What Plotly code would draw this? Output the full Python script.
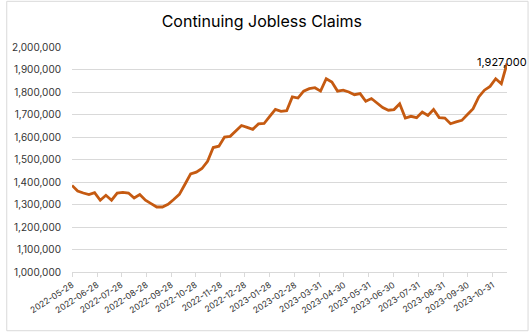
import pandas as pd
import plotly.graph_objects as go

# Weekly continuing jobless claims, weeks ending Saturday from 2022-05-28
week_start = "2022-05-28"
claims = [
    1385000, 1360000, 1351000, 1344000, 1353000, 1319000, 1341000, 1319000,
    1351000, 1354000, 1351000, 1329000, 1344000, 1319000, 1304000, 1289000,
    1289000, 1301000, 1322000, 1345000, 1390000, 1436000, 1444000, 1460000,
    1492000, 1553000, 1559000, 1600000, 1603000, 1627000, 1651000, 1643000,
    1634000, 1658000, 1660000, 1692000, 1723000, 1714000, 1717000, 1778000,
    1773000, 1804000, 1815000, 1819000, 1804000, 1859000, 1844000, 1804000,
    1808000, 1800000, 1788000, 1793000, 1759000, 1771000, 1753000, 1731000,
    1719000, 1722000, 1748000, 1684000, 1692000, 1686000, 1711000, 1696000,
    1722000, 1686000, 1684000, 1659000, 1667000, 1674000, 1700000, 1726000,
    1778000, 1808000, 1825000, 1859000, 1837000, 1927000,
]
weeks = pd.date_range(week_start, periods=len(claims), freq="7D")

# Monthly tick dates on the x axis
tick_dates = [
    "2022-05-28", "2022-06-28", "2022-07-28", "2022-08-28", "2022-09-28",
    "2022-10-28", "2022-11-28", "2022-12-28", "2023-01-28", "2023-02-28",
    "2023-03-31", "2023-04-30", "2023-05-31", "2023-06-30", "2023-07-31",
    "2023-08-31", "2023-09-30", "2023-10-31",
]
y_ticks = list(range(1000000, 2000001, 100000))

LINE = "#C55A11"
TEXT = "#333333"
FONT = "Inter"

fig = go.Figure()
fig.add_trace(go.Scatter(
    x=weeks, y=claims, mode="lines",
    line=dict(color=LINE, width=2.8),
    hoverinfo="skip", showlegend=False,
))

# Label for the latest reading
fig.add_annotation(
    x=weeks[-1], y=claims[-1], text=f"{claims[-1]:,}",
    showarrow=False, xanchor="center", yanchor="middle",
    xshift=-5, yshift=1,
    font=dict(family=FONT, size=11, color="#000000"),
)

# Light frame around the whole chart area
fig.add_shape(
    type="rect", xref="paper", yref="paper",
    x0=-0.150, x1=1.0484, y0=-0.261, y1=1.203,
    line=dict(color="#d9d9d9", width=1), fillcolor="rgba(0,0,0,0)",
)

fig.update_layout(
    width=529, height=334,
    margin=dict(l=67, r=22, t=47, b=62),
    paper_bgcolor="white", plot_bgcolor="white",
    title=dict(
        text="Continuing Jobless Claims",
        x=0.495, xanchor="center", y=0.935, yanchor="middle",
        font=dict(family=FONT, size=16, color="#000000"),
    ),
    xaxis=dict(
        type="date",
        range=[weeks[0], weeks[-1]],
        tickmode="array",
        tickvals=tick_dates,
        ticktext=tick_dates,
        tickangle=-33,
        tickfont=dict(family=FONT, size=8.5, color=TEXT),
        showgrid=False,
        showline=True, linecolor="#d9d9d9", linewidth=1,
        ticks="outside", ticklen=4, tickcolor="#d9d9d9",
        zeroline=False,
    ),
    yaxis=dict(
        range=[1000000, 2000000],
        tickmode="array",
        tickvals=y_ticks,
        ticktext=[f"{v:,}" for v in y_ticks],
        tickfont=dict(family=FONT, size=10, color=TEXT),
        showgrid=True, gridcolor="#d9d9d9", gridwidth=1,
        zeroline=False, showline=False,
        ticks="", ticklabelstandoff=10,
    ),
)

fig.write_html("out.html")
